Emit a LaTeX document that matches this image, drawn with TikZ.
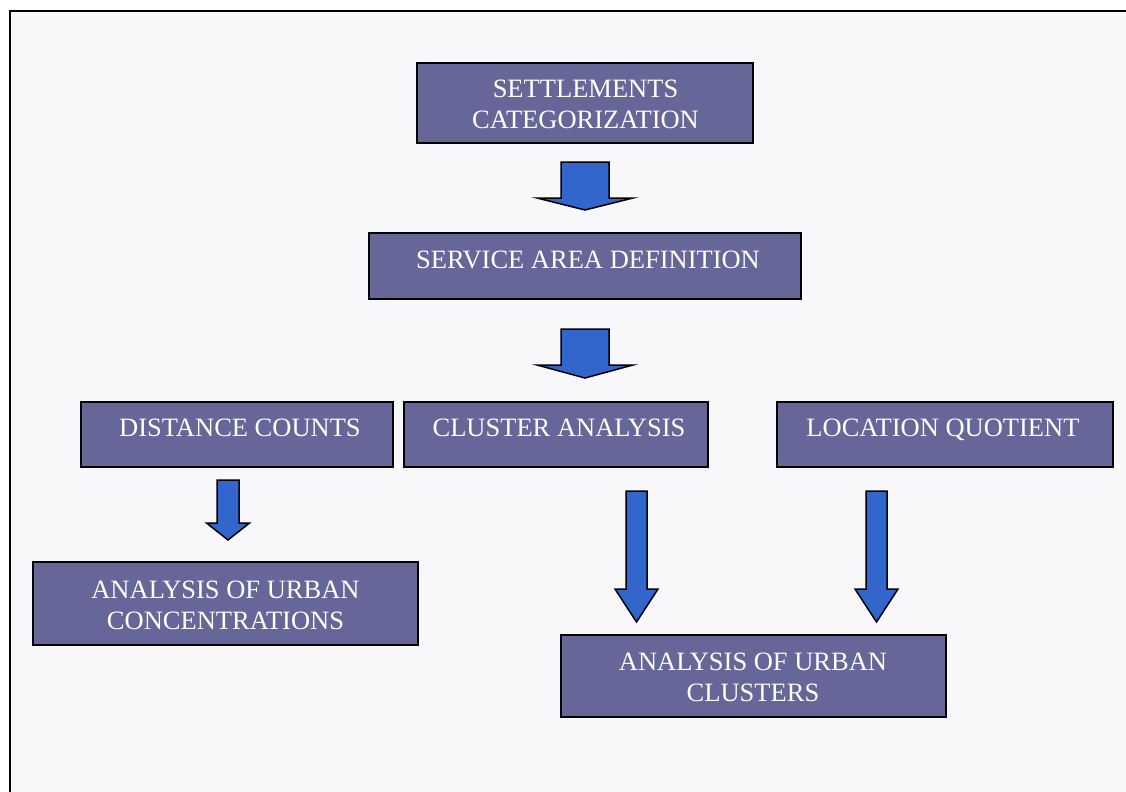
\documentclass[tikz,border=0pt]{standalone}
\usepackage{fontspec}
\setmainfont{Liberation Serif}
\definecolor{boxfill}{RGB}{102,102,153}
\definecolor{arrowfill}{RGB}{51,102,204}
\definecolor{bgfill}{RGB}{248,248,250}
\newcommand{\blockarrow}[6]{%
  \draw[blockarr] (#1-#2,#3) -- (#1+#2,#3) -- (#1+#2,#4) -- (#1+#5,#4) -- (#1,#6)
    -- (#1-#5,#4) -- (#1-#2,#4) -- cycle;}
\begin{document}
\begin{tikzpicture}[x=1bp,y=-1bp,
  box/.style={draw=black, line width=1.5bp, fill=boxfill, inner sep=0pt},
  txt/.style={text=white, align=center, inner sep=0pt,
    font=\fontsize{26.5bp}{31bp}\selectfont},
  blockarr/.style={draw=black, line width=1.5bp, fill=arrowfill, line join=miter}]
\useasboundingbox (0,0) rectangle (1126,792);
\fill[white] (0,0) rectangle (1126,792);
\draw[line width=2bp, fill=bgfill] (10,11) rectangle (1140,810);
% boxes
\node[box, minimum width=336bp, minimum height=80bp] (b1) at (585,103) {};
\node[box, minimum width=432bp, minimum height=66bp] (b2) at (585,266) {};
\node[box, minimum width=312bp, minimum height=65bp] (b3) at (237,434.5) {};
\node[box, minimum width=304bp, minimum height=65bp] (b4) at (556,434.5) {};
\node[box, minimum width=336bp, minimum height=65bp] (b5) at (945,434.5) {};
\node[box, minimum width=385bp, minimum height=83bp] (b6) at (225.5,603.5) {};
\node[box, minimum width=385bp, minimum height=82bp] (b7) at (753.5,676) {};
% texts
\node[txt] (t1) at (585.5,104.5) {SETTLEMENTS\\CATEGORIZATION};
\node[txt, text depth=0pt] (t2) at (588,260) {SERVICE AREA DEFINITION};
\node[txt, text depth=0pt] (t3) at (240,428) {DISTANCE COUNTS};
\node[txt, text depth=0pt] (t4) at (559,428) {CLUSTER ANALYSIS};
\node[txt, text depth=0pt] (t5) at (943,428) {LOCATION QUOTIENT};
\node[txt] (t6) at (225.5,605) {ANALYSIS OF URBAN\\CONCENTRATIONS};
\node[txt] (t7) at (753,677) {ANALYSIS OF URBAN\\CLUSTERS};
% block arrows
\blockarrow{585}{24}{162}{198}{48}{210}
\blockarrow{585}{24}{329}{365}{48}{378}
\blockarrow{228}{11}{480}{523}{21.5}{540}
\blockarrow{636.5}{10.5}{491}{589}{21.5}{622}
\blockarrow{876.5}{10.5}{491}{589}{21.5}{622}
\end{tikzpicture}
\end{document}
